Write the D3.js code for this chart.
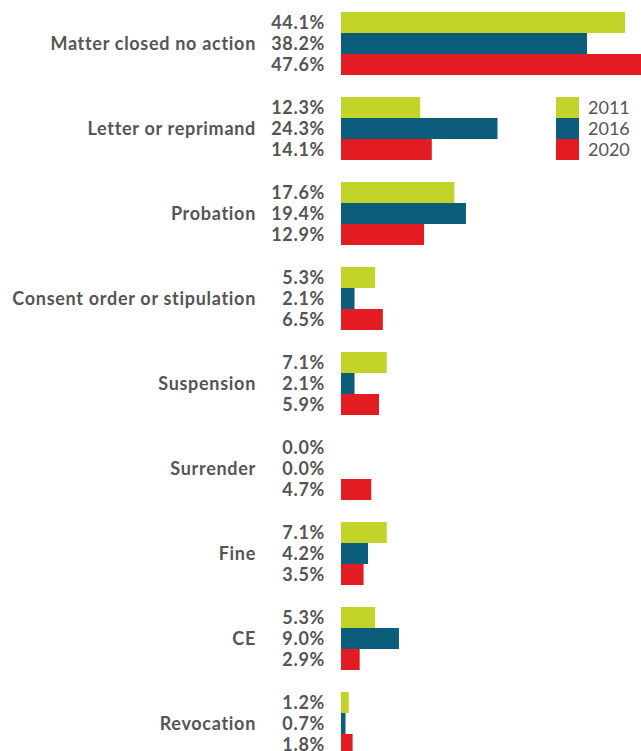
<!DOCTYPE html>
<html lang="en">
<head>
<meta charset="UTF-8">
<title>Outcomes</title>
<style>
  body { margin: 0; background: #fff; }
  svg { display: block; }
</style>
<script src="https://cdn.jsdelivr.net/npm/d3@7"></script>
</head>
<body>
<div id="container"></div>
<script>
const categories = ["Matter closed no action", "Letter or reprimand", "Probation",
    "Consent order or stipulation", "Suspension", "Surrender", "Fine", "CE", "Revocation"];
const series = ["2011", "2016", "2020"];
const values2011 = [44.1, 12.3, 17.6, 5.3, 7.1, 0.0, 7.1, 5.3, 1.2];
const values2016 = [38.2, 24.3, 19.4, 2.1, 2.1, 0.0, 4.2, 9.0, 0.7];
const values2020 = [47.6, 14.1, 12.9, 6.5, 5.9, 4.7, 3.5, 2.9, 1.8];
const colors = ["#c2d32a", "#0c5c7b", "#e31b23"];

const width = 641, height = 751;
const allValues = [values2011, values2016, values2020];

const rows = categories.map((c, i) => ({
    name: c,
    vals: series.map((s, j) => ({ series: s, value: allValues[j][i] }))
}));

const y = d3.scaleBand().domain(categories).range([1, 766])
    .paddingInner(22 / 85).paddingOuter(11 / 85);
const ySub = d3.scaleBand().domain(series).range([0, y.bandwidth()]);
const x = d3.scaleLinear().domain([0, 50]).range([341, 341 + 322]);
const color = d3.scaleOrdinal().domain(series).range(colors);

const svg = d3.select("#container").append("svg")
    .attr("width", width)
    .attr("height", height)
    .attr("font-family", "Lato, sans-serif");

const g = svg.append("g")
    .selectAll("g")
    .data(rows)
    .join("g")
    .attr("transform", d => `translate(0,${y(d.name)})`);

g.selectAll("rect")
    .data(d => d.vals)
    .join("rect")
    .attr("x", x(0))
    .attr("y", d => ySub(d.series))
    .attr("width", d => x(d.value) - x(0))
    .attr("height", ySub.bandwidth())
    .attr("fill", d => color(d.series));

g.selectAll("text.val")
    .data(d => d.vals)
    .join("text")
    .attr("class", "val")
    .attr("x", 325)
    .attr("y", d => ySub(d.series) + ySub.bandwidth() / 2)
    .attr("dy", "0.36em")
    .attr("text-anchor", "end")
    .attr("font-size", 18)
    .attr("font-weight", "bold")
    .attr("letter-spacing", 0.7)
    .attr("fill", "#555")
    .text(d => d.value.toFixed(1) + "%");

g.append("text")
    .attr("x", 256)
    .attr("y", y.bandwidth() / 2)
    .attr("dy", "0.36em")
    .attr("text-anchor", "end")
    .attr("font-size", 18)
    .attr("font-weight", "bold")
    .attr("letter-spacing", 0.7)
    .attr("fill", "#555")
    .text(d => d.name);

// legend
const legend = svg.append("g")
    .selectAll("g")
    .data(series)
    .join("g")
    .attr("transform", (d, i) => `translate(556,${97 + i * 21})`);

legend.append("rect")
    .attr("width", 23)
    .attr("height", 21)
    .attr("fill", d => color(d));

legend.append("text")
    .attr("x", 32)
    .attr("y", 10.5)
    .attr("dy", "0.36em")
    .attr("font-size", 18)
    .attr("fill", "#555")
    .text(d => d);
</script>
</body>
</html>
